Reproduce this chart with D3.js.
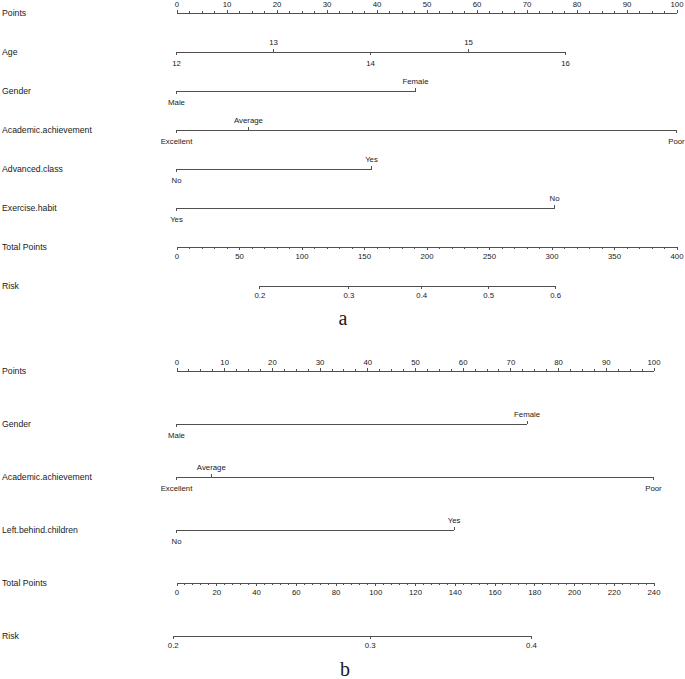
<!DOCTYPE html>
<html>
<head>
<meta charset="utf-8">
<script src="https://cdn.jsdelivr.net/npm/d3@7"></script>
<style>
  html, body { margin: 0; padding: 0; background: #fff; }
  svg { display: block; }
</style>
</head>
<body>
<svg id="nomo" width="685" height="679"></svg>
<script>
//////////////////// DATA ////////////////////
// panel a
const pointTicks = [0, 10, 20, 30, 40, 50, 60, 70, 80, 90, 100];

const ageLevels = ["12", "13", "14", "15", "16"];
const agePoints = [0, 19.4, 38.8, 58.4, 77.8];
const genderLevels = ["Male", "Female"];
const genderPointsA = [0, 47.8];
const academicLevels = ["Excellent", "Average", "Poor"];
const academicPointsA = [0, 14.4, 100];
const advancedLevels = ["No", "Yes"];
const advancedPoints = [0, 39];
const exerciseLevels = ["Yes", "No"];
const exercisePoints = [0, 75.6];

const totalTicksA = [0, 50, 100, 150, 200, 250, 300, 350, 400];
const riskTicksA = [0.2, 0.3, 0.4, 0.5, 0.6];
const riskModelA = { intercept: -1.889, slope: 1 / 132 };

// panel b
const genderPointsB = [0, 73.5];
const academicPointsB = [0, 7.3, 100];
const leftBehindLevels = ["No", "Yes"];
const leftBehindPoints = [0, 58.2];

const totalTicksB = [0, 20, 40, 60, 80, 100, 120, 140, 160, 180, 200, 220, 240];
const riskTicksB = [0.2, 0.3, 0.4];
const riskModelB = { intercept: -1.376, slope: 1 / 183.8 };


//////////////////// STYLE ////////////////////
const lineColor = "#505050";
const textColor = "#1a1a1a";
const fontFamily = "'Liberation Sans', Arial, sans-serif";
const tickFont = 7.8;
const rowFont = 8.7;

const svg = d3.select("#nomo");

const logit = p => Math.log(p / (1 - p));


//////////////////// HELPERS ////////////////////
function rowLabel(y, text) {
    svg.append("text")
        .attr("x", 2)
        .attr("y", y + 3.1)
        .attr("font-family", fontFamily)
        .attr("font-size", rowFont)
        .attr("fill", textColor)
        .text(text);
}

function styleAxis(g) {
    g.attr("font-family", fontFamily).attr("font-size", tickFont);
    g.selectAll("path, line").attr("stroke", lineColor).attr("shape-rendering", "crispEdges");
    g.selectAll("text").attr("fill", textColor);
}

// scale axis (Points / Total Points) with labelled major and unlabelled minor ticks
function scaleAxis(scale, y, major, minorStep, up) {
    const maker = up ? d3.axisTop : d3.axisBottom;
    const minor = d3.range(major[0], major[major.length - 1] + 1e-9, minorStep);

    svg.append("g")
        .attr("transform", `translate(0,${y})`)
        .call(maker(scale).tickValues(minor).tickSize(2).tickSizeOuter(0).tickFormat(""))
        .call(styleAxis);

    svg.append("g")
        .attr("transform", `translate(0,${y})`)
        .call(maker(scale).tickValues(major).tickSize(3).tickSizeOuter(0).tickPadding(up ? 3.3 : 3.4))
        .call(styleAxis)
        .call(g => g.select(".domain").remove());
}

// categorical / continuous variable line, labels alternate below / above
function variableRow(scale, y, levels, points) {
    const g = svg.append("g").attr("transform", `translate(0,${y})`);
    const xs = points.map(scale);

    g.append("line")
        .attr("x1", d3.min(xs)).attr("x2", d3.max(xs))
        .attr("y1", 0).attr("y2", 0)
        .attr("stroke", lineColor)
        .attr("shape-rendering", "crispEdges");

    levels.forEach((lev, i) => {
        const above = i % 2 === 1;
        const x = scale(points[i]);
        g.append("line")
            .attr("x1", x).attr("x2", x)
            .attr("y1", 0).attr("y2", above ? -3 : 3)
            .attr("stroke", lineColor)
            .attr("shape-rendering", "crispEdges");
        g.append("text")
            .attr("x", x)
            .attr("y", above ? -7.3 : 13.9)
            .attr("text-anchor", "middle")
            .attr("font-family", fontFamily)
            .attr("font-size", tickFont)
            .attr("fill", textColor)
            .text(lev);
    });
}

// risk axis built on the linear predictor: lp = intercept + slope * total points
function riskAxis(totalScale, y, ticks, model) {
    const dom = totalScale.domain();
    const lpScale = d3.scaleLinear()
        .domain(dom.map(tp => model.intercept + model.slope * tp))
        .range(totalScale.range());

    const lps = ticks.map(logit);
    const g = svg.append("g")
        .attr("transform", `translate(0,${y})`)
        .call(d3.axisBottom(lpScale)
            .tickValues(lps)
            .tickSize(3)
            .tickPadding(3.4)
            .tickFormat((d, i) => d3.format(".1f")(ticks[i])))
        .call(styleAxis)
        .call(g => g.select(".domain").remove());

    g.append("line")
        .attr("x1", lpScale(d3.min(lps))).attr("x2", lpScale(d3.max(lps)))
        .attr("y1", 0.5).attr("y2", 0.5)
        .attr("stroke", lineColor)
        .attr("shape-rendering", "crispEdges");
}

function panelLetter(x, y, text) {
    svg.append("text")
        .attr("x", x)
        .attr("y", y)
        .attr("text-anchor", "middle")
        .attr("font-family", "'Liberation Serif', 'Times New Roman', serif")
        .attr("font-size", 20)
        .attr("fill", textColor)
        .text(text);
}


//////////////////// PANEL A ////////////////////
const xPointsA = d3.scaleLinear().domain([0, 100]).range([176.5, 676.5]);
const xTotalA = d3.scaleLinear().domain([0, 400]).range([176.5, 676.5]);

const rowsA = [13, 52, 91, 130, 169, 208, 247, 286];

rowLabel(rowsA[0], "Points");
scaleAxis(xPointsA, rowsA[0], pointTicks, 2.5, true);

rowLabel(rowsA[1], "Age");
variableRow(xPointsA, rowsA[1], ageLevels, agePoints);

rowLabel(rowsA[2], "Gender");
variableRow(xPointsA, rowsA[2], genderLevels, genderPointsA);

rowLabel(rowsA[3], "Academic.achievement");
variableRow(xPointsA, rowsA[3], academicLevels, academicPointsA);

rowLabel(rowsA[4], "Advanced.class");
variableRow(xPointsA, rowsA[4], advancedLevels, advancedPoints);

rowLabel(rowsA[5], "Exercise.habit");
variableRow(xPointsA, rowsA[5], exerciseLevels, exercisePoints);

rowLabel(rowsA[6], "Total Points");
scaleAxis(xTotalA, rowsA[6], totalTicksA, 10, false);

rowLabel(rowsA[7], "Risk");
riskAxis(xTotalA, rowsA[7], riskTicksA, riskModelA);

panelLetter(343, 325, "a");


//////////////////// PANEL B ////////////////////
const xPointsB = d3.scaleLinear().domain([0, 100]).range([176.5, 653.5]);
const xTotalB = d3.scaleLinear().domain([0, 240]).range([176.5, 653.5]);

const rowsB = [371, 424, 477, 530, 583, 636];

rowLabel(rowsB[0], "Points");
scaleAxis(xPointsB, rowsB[0], pointTicks, 2.5, true);

rowLabel(rowsB[1], "Gender");
variableRow(xPointsB, rowsB[1], genderLevels, genderPointsB);

rowLabel(rowsB[2], "Academic.achievement");
variableRow(xPointsB, rowsB[2], academicLevels, academicPointsB);

rowLabel(rowsB[3], "Left.behind.children");
variableRow(xPointsB, rowsB[3], leftBehindLevels, leftBehindPoints);

rowLabel(rowsB[4], "Total Points");
scaleAxis(xTotalB, rowsB[4], totalTicksB, 4, false);

rowLabel(rowsB[5], "Risk");
riskAxis(xTotalB, rowsB[5], riskTicksB, riskModelB);

panelLetter(345, 676, "b");
</script>
</body>
</html>
